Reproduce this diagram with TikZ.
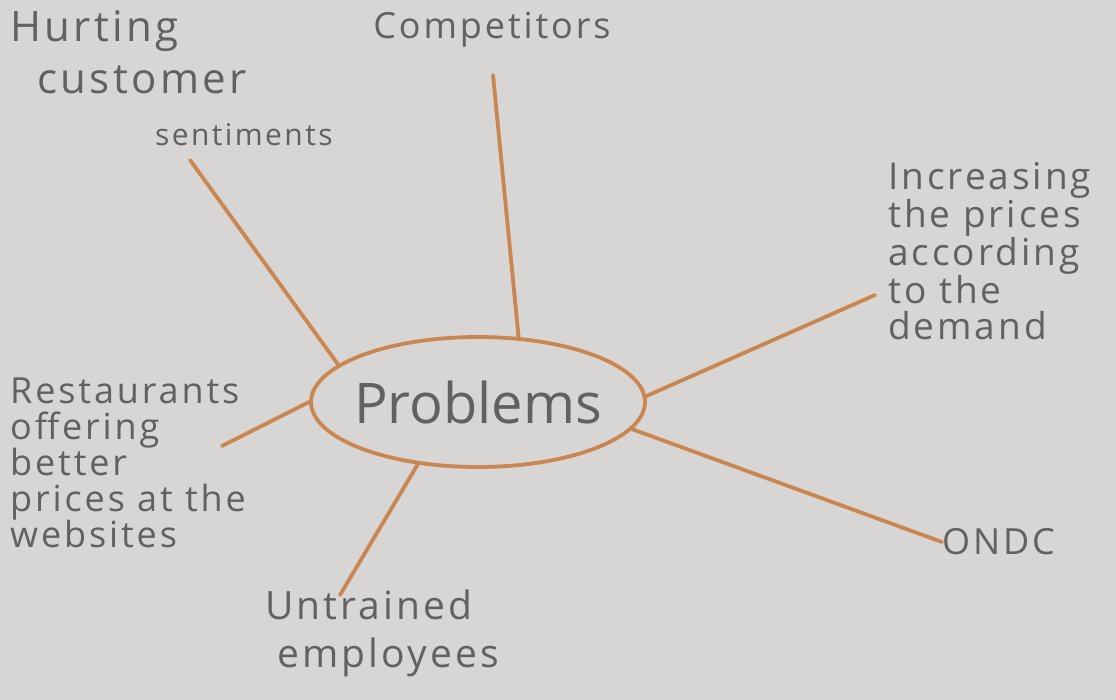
\documentclass[tikz,border=0pt]{standalone}
\usepackage{fontspec}
\setmainfont{Open Sans}
\usetikzlibrary{shapes.geometric}
\definecolor{paper}{RGB}{216,214,212}
\definecolor{pen}{RGB}{202,134,80}
\definecolor{ink}{RGB}{98,96,96}
\newcommand{\handsize}[2]{\fontsize{#1}{#2}\selectfont\addfontfeature{LetterSpace=8}}
\begin{document}
\begin{tikzpicture}[x=1pt, y=-1pt,
    link/.style={draw=pen, line width=3.8pt, line cap=round},
    hand/.style={text=ink, inner sep=0pt, align=left, font=\handsize{36}{36}},
    core/.style={ellipse, draw=pen, line width=3.8pt, inner xsep=-45pt, inner ysep=0pt,
                 minimum width=334pt, minimum height=130pt, text=ink,
                 font=\fontsize{56}{60}\selectfont},
]
\fill[paper] (0,0) rectangle (1116,700);
\node[core] (prob) at (478,402) {\raisebox{-8pt}{Problems}};
\node[hand, anchor=north] (comp) at (492,12) {Competitors};
\node[hand, anchor=north west, font=\handsize{42}{52}] (hurt) at (10,10)
    {Hurting\\\hspace{27pt}customer\\\hspace{145pt}{\handsize{30}{30}sentiments}};
\node[hand, anchor=north west, font=\handsize{37}{36}] (incr) at (888,162)
    {Increasing\\the prices\\according\\to the\\demand};
\node[hand, anchor=north west] (rest) at (10,378)
    {Restaurants\\offering\\better\\prices at the\\websites};
\node[hand, anchor=north west, font=\handsize{39}{48}] (untr) at (265,590)
    {Untrained\\\hspace{12pt}employees};
\node[hand, anchor=west] (ondc) at (942,542) {ONDC};
\coordinate (compend) at (493,75);
\coordinate (hurtend) at (190,160);
\coordinate (incrend) at (875,295);
\coordinate (restend) at (222,446);
\coordinate (untrend) at (340,595);

\draw[link] (compend) -- (prob.58);
\draw[link] (hurtend) -- (prob.165);
\draw[link] (incrend) -- (prob.2);
\draw[link] (ondc.west) -- (prob.-10);
\draw[link] (untrend) -- (prob.226);
\draw[link] (restend) -- (prob.180);
\end{tikzpicture}
\end{document}
